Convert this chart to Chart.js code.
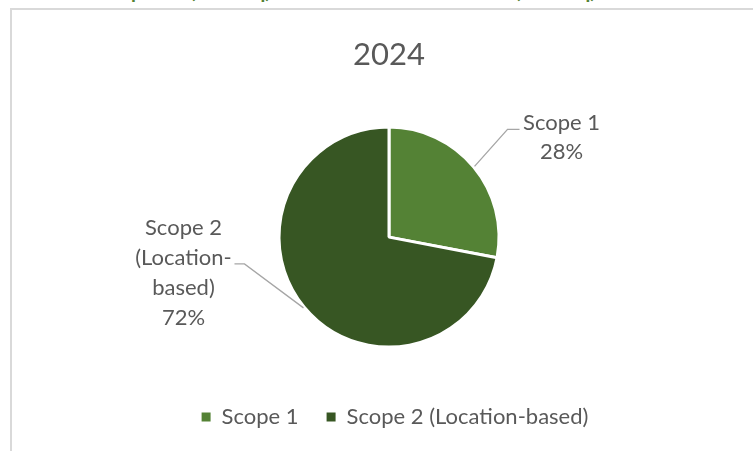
<!DOCTYPE html>
<html>
<head>
<meta charset="utf-8">
<script src="https://cdn.jsdelivr.net/npm/chart.js@4.4.1/dist/chart.umd.min.js"></script>
<style>
  html, body { margin: 0; padding: 0; background: #ffffff; }
  body { width: 753px; height: 451px; position: relative; overflow: hidden; font-family: Lato, "Open Sans", sans-serif; }
  #frame { position: absolute; left: 10px; top: 8px; width: 800px; height: 500px; border-top: 2px solid #d9d9d9; border-left: 2px solid #d9d9d9; box-sizing: border-box; }
  .hdr { position: absolute; top: -20px; font-size: 20px; line-height: 20px; font-weight: bold; color: #548235; white-space: nowrap; }
  #wrap { position: absolute; left: 0; top: 0; width: 753px; height: 451px; }
</style>
</head>
<body>
<div class="hdr" style="left:99px">Scope 1</div>
<div class="hdr" style="left:190px">(tCO2eq)</div>
<div class="hdr" style="left:370px">Location-based</div>
<div class="hdr" style="left:515px">(tCO2eq)</div>
<div id="frame"></div>
<div id="wrap"><canvas id="c" width="753" height="451"></canvas></div>
<script>
// ---- data ----
const chartTitle = '2024';
const categories = ['Scope 1', 'Scope 2 (Location-based)'];
const shares = [28, 72];
const labelLines = [['Scope 1'], ['Scope 2', '(Location-', 'based)']];
const sliceColors = ['#548235', '#375623'];

const TEXT = '#595959';
const FONT = 'Lato, "Open Sans", sans-serif';

// leader-line / label placement relative to each slice's edge point
const LABEL_LAYOUT = [
  { elbowDx: 33, elbowDy: -37, tailDx: 12, textDx: 42, firstDy: -6, lineH: 29 },
  { elbowDx: -59, elbowDy: -44, tailDx: -10, textDx: -51, firstDy: -36, lineH: 30 }
];

const sliceLabels = {
  id: 'sliceLabels',
  afterDatasetsDraw(chart) {
    const ctx = chart.ctx;
    const meta = chart.getDatasetMeta(0);
    const vals = chart.data.datasets[0].data;
    const total = vals.reduce((a, b) => a + b, 0);
    meta.data.forEach((arc, i) => {
      const p = arc.getProps(['x', 'y', 'outerRadius', 'startAngle', 'endAngle'], true);
      const mid = (p.startAngle + p.endAngle) / 2;
      const ax = p.x + Math.cos(mid) * (p.outerRadius + 1);
      const ay = p.y + Math.sin(mid) * (p.outerRadius + 1);
      const L = LABEL_LAYOUT[i];
      const ex = ax + L.elbowDx, ey = ay + L.elbowDy;
      const tx = ex + L.tailDx;
      ctx.save();
      ctx.strokeStyle = '#a6a6a6';
      ctx.lineWidth = 1.3;
      ctx.beginPath();
      ctx.moveTo(ax, ay);
      ctx.lineTo(ex, ey);
      ctx.lineTo(tx, ey);
      ctx.stroke();
      const lines = labelLines[i].concat([Math.round(vals[i] / total * 100) + '%']);
      ctx.fillStyle = TEXT;
      ctx.font = '22px ' + FONT;
      ctx.textAlign = 'center';
      ctx.textBaseline = 'middle';
      const cx = tx + L.textDx;
      lines.forEach((t, k) => {
        ctx.fillText(t, cx, ey + L.firstDy + k * L.lineH);
      });
      ctx.restore();
    });
  }
};

// empty box on the right of the plot area only (legend stays full width)
const rightSpacer = {
  id: 'rightSpacer',
  beforeInit(chart) {
    Chart.layouts.addBox(chart, {
      position: 'right', weight: 0, fullSize: false, options: {},
      left: 0, top: 0, right: 0, bottom: 0, width: 0, height: 0,
      isHorizontal() { return false; },
      update(maxWidth, maxHeight) { this.width = 12; this.height = maxHeight; },
      draw() {}
    });
  }
};

new Chart(document.getElementById('c'), {
  type: 'pie',
  data: {
    labels: categories,
    datasets: [{
      data: shares,
      backgroundColor: sliceColors,
      borderColor: '#ffffff',
      borderWidth: 3,
      hoverOffset: 0
    }]
  },
  options: {
    responsive: false,
    animation: false,
    radius: 110,
    layout: { padding: { left: 37, right: 0, top: 0, bottom: 13 } },
    plugins: {
      title: {
        display: true,
        fullSize: false,
        text: chartTitle,
        color: TEXT,
        font: { family: FONT, size: 31, weight: 'normal' },
        padding: { top: 36, bottom: 23 }
      },
      legend: {
        position: 'bottom',
        labels: {
          color: TEXT,
          font: { family: FONT, size: 22 },
          boxWidth: 9,
          boxHeight: 9,
          padding: 28,
          generateLabels(chart) {
            return Chart.overrides.pie.plugins.legend.labels.generateLabels(chart)
              .map(item => Object.assign(item, { lineWidth: 0, strokeStyle: 'rgba(0,0,0,0)' }));
          }
        }
      },
      tooltip: { enabled: false }
    }
  },
  plugins: [rightSpacer, sliceLabels]
});
</script>
</body>
</html>
